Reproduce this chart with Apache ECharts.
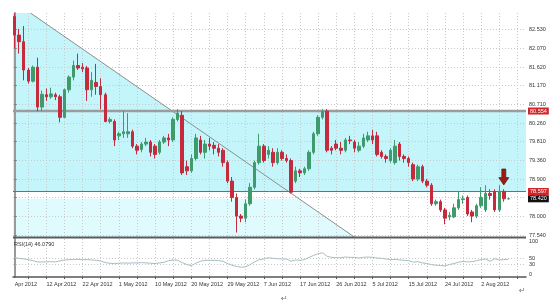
<!DOCTYPE html>
<html><head><meta charset="utf-8">
<script src="https://cdn.jsdelivr.net/npm/echarts@6/dist/echarts.min.js"></script>
<style>html,body{margin:0;padding:0;background:#fff}#c{width:560px;height:303px}</style>
</head><body><div id="c"></div>
<script>
const dates = ['4 Apr 2012','5 Apr 2012','6 Apr 2012','8 Apr 2012','9 Apr 2012','10 Apr 2012','11 Apr 2012','12 Apr 2012','13 Apr 2012','15 Apr 2012','16 Apr 2012','17 Apr 2012','18 Apr 2012','19 Apr 2012','20 Apr 2012','22 Apr 2012','23 Apr 2012','24 Apr 2012','25 Apr 2012','26 Apr 2012','27 Apr 2012','29 Apr 2012','30 Apr 2012','1 May 2012','2 May 2012','3 May 2012','4 May 2012','6 May 2012','7 May 2012','8 May 2012','9 May 2012','10 May 2012','11 May 2012','13 May 2012','14 May 2012','15 May 2012','16 May 2012','17 May 2012','18 May 2012','20 May 2012','21 May 2012','22 May 2012','23 May 2012','24 May 2012','25 May 2012','27 May 2012','28 May 2012','29 May 2012','30 May 2012','31 May 2012','1 Jun 2012','3 Jun 2012','4 Jun 2012','5 Jun 2012','6 Jun 2012','7 Jun 2012','8 Jun 2012','10 Jun 2012','11 Jun 2012','12 Jun 2012','13 Jun 2012','14 Jun 2012','15 Jun 2012','17 Jun 2012','18 Jun 2012','19 Jun 2012','20 Jun 2012','21 Jun 2012','22 Jun 2012','24 Jun 2012','25 Jun 2012','26 Jun 2012','27 Jun 2012','28 Jun 2012','29 Jun 2012','1 Jul 2012','2 Jul 2012','3 Jul 2012','4 Jul 2012','5 Jul 2012','6 Jul 2012','8 Jul 2012','9 Jul 2012','10 Jul 2012','11 Jul 2012','12 Jul 2012','13 Jul 2012','15 Jul 2012','16 Jul 2012','17 Jul 2012','18 Jul 2012','19 Jul 2012','20 Jul 2012','22 Jul 2012','23 Jul 2012','24 Jul 2012','25 Jul 2012','26 Jul 2012','27 Jul 2012','29 Jul 2012','30 Jul 2012','31 Jul 2012','1 Aug 2012','2 Aug 2012','3 Aug 2012','5 Aug 2012','6 Aug 2012','7 Aug 2012','8 Aug 2012','9 Aug 2012'];

const opens  = [82.85,82.40,82.24,81.55,81.28,81.62,80.65,80.95,80.90,80.95,80.90,80.40,81.07,81.38,81.66,81.62,81.60,81.07,81.25,81.15,80.95,80.30,80.30,79.95,80.00,80.00,80.05,79.70,79.62,79.75,79.80,79.70,79.55,79.80,79.90,79.85,80.35,80.45,79.20,79.10,79.40,79.85,79.55,79.75,79.72,79.65,79.60,79.30,78.85,78.45,78.00,77.95,78.30,78.70,79.30,79.70,79.50,79.55,79.30,79.55,79.40,79.35,78.85,79.10,79.05,79.15,79.55,80.00,80.40,80.55,79.65,79.75,79.65,79.60,79.85,79.80,79.60,79.70,79.85,79.95,79.95,79.55,79.45,79.35,79.30,79.75,79.45,79.40,79.25,78.90,79.20,78.85,78.75,78.30,78.35,78.15,77.98,77.98,78.20,78.40,78.45,78.10,78.00,78.25,78.15,78.55,78.60,78.15,78.60,78.42];
const closes = [82.40,82.24,81.55,81.28,81.62,80.65,80.96,80.90,80.97,80.90,80.40,81.07,81.38,81.66,81.60,81.58,81.07,81.30,81.15,80.95,80.30,80.35,79.85,80.00,80.05,80.05,79.70,79.60,79.75,79.80,79.55,79.50,79.80,79.90,79.85,80.35,80.50,79.05,79.10,79.40,79.90,79.55,79.75,79.70,79.65,79.55,79.30,78.85,78.45,78.00,77.95,78.30,78.70,79.30,79.70,79.35,79.60,79.30,79.55,79.40,79.35,78.58,79.10,79.05,79.15,79.55,80.00,80.40,80.55,79.60,79.60,79.65,79.60,79.85,79.83,79.65,79.70,79.90,79.95,79.85,79.50,79.45,79.40,79.60,79.70,79.45,79.40,79.30,78.90,79.20,78.85,78.75,78.30,78.35,78.15,77.95,78.02,78.20,78.40,78.42,78.05,78.00,78.25,78.45,78.55,78.50,78.15,78.60,78.42,78.42];
const lows   = [82.08,81.95,81.30,81.22,81.25,80.55,80.55,80.80,80.85,80.82,80.28,80.38,81.00,81.30,81.55,81.50,80.80,80.90,80.95,80.60,80.28,80.25,79.70,79.85,79.90,79.90,79.65,79.50,79.55,79.70,79.45,79.40,79.50,79.75,79.70,79.80,80.30,79.00,79.00,79.05,79.35,79.50,79.40,79.60,79.50,79.45,79.20,78.80,78.35,77.60,77.85,77.85,78.25,78.65,79.25,79.30,79.40,79.20,79.25,79.35,79.30,78.55,78.80,78.95,79.00,79.10,79.50,79.95,80.35,79.55,79.50,79.60,79.50,79.55,79.75,79.55,79.55,79.65,79.80,79.75,79.45,79.40,79.30,79.30,79.25,79.35,79.30,79.20,78.85,78.85,78.80,78.70,78.25,78.25,78.10,77.80,77.90,77.95,78.15,78.30,78.00,77.85,77.95,78.20,78.10,78.40,78.10,78.10,78.35,78.40];
const highs  = [82.93,82.55,82.62,81.60,81.66,81.85,81.05,81.10,81.12,81.00,80.95,81.10,81.42,81.78,81.95,81.72,81.65,81.50,81.70,81.35,81.00,80.40,80.35,80.05,80.55,80.50,80.10,79.75,79.80,79.90,79.85,79.75,79.85,79.95,80.00,80.40,80.60,80.55,79.35,79.50,80.00,79.95,79.85,79.90,79.80,79.75,79.65,79.35,78.95,78.55,78.05,78.40,78.80,79.35,80.00,79.75,79.70,79.65,79.65,79.60,79.50,79.40,79.20,79.15,79.20,79.60,80.05,80.45,80.60,80.60,79.70,79.85,79.80,79.90,79.95,79.85,79.80,80.00,80.05,80.10,80.05,79.60,79.50,79.65,79.85,79.80,79.50,79.45,79.30,79.25,79.25,78.90,78.80,78.40,78.40,78.20,78.10,78.30,78.60,78.50,78.50,78.15,78.30,78.70,78.75,78.65,78.65,78.75,78.65,78.45];
const rsi = [51,49,47,45,42,38,38,38,39,38,41,44,45,45,46,45,45,44,43,41,36,34,33,34,35,34,35,35,36,35,34,33,35,37,42,44,43,36,30,27,34,40,43,43,43,42,40,33,28,24,22,23,30,38,45,47,51,49,48,47,47,40,44,43,45,52,58,63,66,55,52,51,51,53,52,52,50,52,53,52,50,49,47,45,46,44,43,42,37,39,35,33,30,28,27,26,30,33,37,40,38,39,42,45,47,40,48,44,45,46.079];

const yTicks = [82.530,82.070,81.620,81.170,80.710,80.260,79.810,79.360,78.900,78.450,78.000,77.540];
const rsiTicks = [100,50,30,0];
const rsiLevels = [50,30];
const xTickLabels = ['Apr 2012','12 Apr 2012','22 Apr 2012','1 May 2012','10 May 2012','20 May 2012','29 May 2012','7 Jun 2012','17 Jun 2012','26 Jun 2012','5 Jul 2012','15 Jul 2012','24 Jul 2012','2 Aug 2012'];
const resistance = 80.554;
const support = 78.597;
const lastPrice = 78.420;
const trend = [[3.5, 82.937],[75.3, 77.467]];
const arrowAt = [108, 78.95];

const xMin = -0.37, xMax = 112.9, yMin = 77.467, yMax = 82.937;
const labelIdx = xTickLabels.map(l => Math.max(0, dates.indexOf(l)));
const gridIdx = []; for (let k = 3; k < xMax; k += 4) gridIdx.push(k);
const slope = (trend[1][1]-trend[0][1])/(trend[1][0]-trend[0][0]);
const xAt = p => trend[0][0] + (p - trend[0][1]) / slope;

const FONT = 'Liberation Sans';
const dotted = {color:'#c9c9c9', type:[1,2], width:1};
const cyan = '#c4f5fa', cyanLight = '#e0fbfd';
const UP = '#3f9b6c', DOWN = '#c52a3d';

function fill(data, color){
  return {type:'line', xAxisIndex:0, yAxisIndex:0, data, symbol:'none', silent:true,
    lineStyle:{width:0}, areaStyle:{color, opacity:1}, z:1};
}
function hline(val, color, width, bg){
  return {type:'line', xAxisIndex:0, yAxisIndex:0, data:[[xMin,val],[xMax,val]], symbol:'none', silent:true,
    lineStyle:{color, width}, z:4,
    endLabel:{show:true, formatter:()=>val.toFixed(3), backgroundColor:bg, color:'#fff',
      fontFamily:FONT, fontSize:5.5, padding:[1,2,0,2], distance:2}};
}

const chart = echarts.init(document.getElementById('c'), null, {renderer:'canvas'});
chart.setOption({
  animation:false,
  backgroundColor:'#fff',
  grid:[
    {left:13, right:34, top:13, height:225},
    {left:13, right:34, top:239, height:38}
  ],
  xAxis:[
    {type:'value', gridIndex:0, min:xMin, max:xMax, z:3,
      axisLine:{show:false}, axisLabel:{show:false},
      axisTick:{show:false, customValues:gridIdx},
      splitLine:{show:true, lineStyle:dotted}},
    {type:'value', gridIndex:1, min:xMin, max:xMax, z:3,
      axisLine:{show:true, onZero:false, lineStyle:{color:'#555', width:1.5}},
      axisTick:{show:true, length:2, customValues:gridIdx, lineStyle:{color:'#555'}},
      axisLabel:{show:true, customValues:labelIdx, align:'left', margin:4,
        fontFamily:FONT, fontSize:5.5, color:'#333',
        formatter:v => xTickLabels[labelIdx.indexOf(Math.round(v))] || ''},
      splitLine:{show:true, lineStyle:dotted}}
  ],
  yAxis:[
    {type:'value', gridIndex:0, position:'right', min:yMin, max:yMax, z:3,
      axisLine:{show:true, lineStyle:{color:'#9a9a9a', width:2}},
      axisTick:{show:true, length:2, customValues:yTicks, lineStyle:{color:'#777'}},
      axisLabel:{show:true, customValues:yTicks, margin:3, fontFamily:FONT, fontSize:5.5, color:'#333',
        formatter:v => v.toFixed(3)},
      splitLine:{show:true, lineStyle:dotted}},
    {type:'value', gridIndex:1, position:'right', min:-8, max:108, z:3,
      axisLine:{show:true, lineStyle:{color:'#9a9a9a', width:2}},
      axisTick:{show:false, customValues:rsiLevels},
      axisLabel:{show:true, customValues:rsiTicks, margin:3, fontFamily:FONT, fontSize:5.5, color:'#333'},
      splitLine:{show:true, lineStyle:dotted}}
  ],
  graphic:[
    {type:'rect', left:13, top:236.5, shape:{width:513, height:2}, style:{fill:'#5a5a5a'}, z:10, silent:true},
    {type:'text', left:14, top:241, style:{text:'RSI(14) ' + rsi[rsi.length-1].toFixed(4), fontFamily:FONT, fontSize:5.5, fill:'#333'}, z:10},
    {type:'text', left:519, top:287, style:{text:'\u21B5', fontFamily:'DejaVu Sans', fontSize:8, fill:'#777'}, z:10},
    {type:'text', left:281, top:295, style:{text:'\u21B5', fontFamily:'DejaVu Sans', fontSize:8, fill:'#777'}, z:10}
  ],
  series:[
    fill([[xMin,resistance],[xMax,resistance]], cyan),
    fill([[xMin,yMax],[trend[0][0],yMax],[trend[1][0],trend[1][1]]], cyan),
    fill([[xMin,support],[xMax,support]], '#ffffff'),
    fill([[xMin,lastPrice],[xAt(lastPrice),lastPrice],[trend[1][0],trend[1][1]]], cyanLight),
    {type:'line', xAxisIndex:0, yAxisIndex:0, data:trend, symbol:'none', silent:true,
      lineStyle:{color:'#8a8f8f', width:1}, z:4},
    hline(resistance, '#9c9c9c', 2.5, '#d0262b'),
    hline(support, '#b5524a', 1, '#d0262b'),
    Object.assign(hline(lastPrice, '#000', 0, '#111'), {lineStyle:{width:0, opacity:0}}),
    {type:'candlestick', xAxisIndex:0, yAxisIndex:0, z:6, barWidth:3,
      encode:{x:0, y:[1,2,3,4]},
      data: dates.map((d,i)=>[i, opens[i], closes[i], lows[i], highs[i]]),
      itemStyle:{color:UP, color0:DOWN, borderColor:UP, borderColor0:DOWN, borderWidth:1},
      markPoint:{silent:true, animation:false,
        data:[{coord:arrowAt, symbol:'path://M3,0 L7,0 L7,7 L10,7 L5,13 L0,7 L3,7 Z', symbolSize:[10,16],
          itemStyle:{color:'#9e1c14', borderColor:'#3a0a06', borderWidth:0.6}, label:{show:false}}]}
    },
    {type:'line', xAxisIndex:1, yAxisIndex:1, data: rsi.map((v,i)=>[i,v]), symbol:'none', silent:true,
      lineStyle:{color:'#a5bfc3', width:1}, z:4}
  ]
});
</script></body></html>
